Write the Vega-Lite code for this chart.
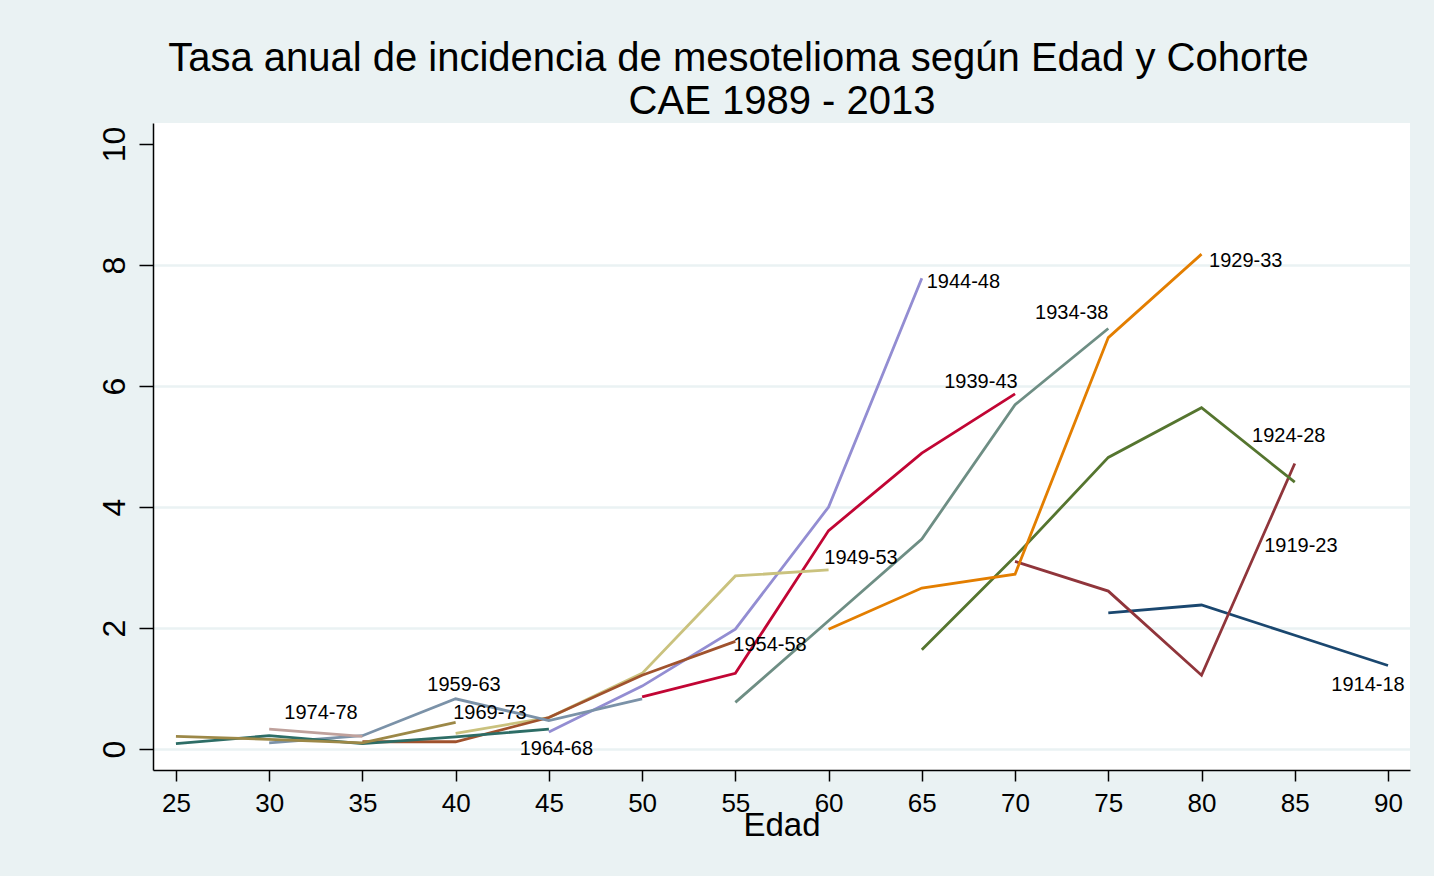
{
  "$schema": "https://vega.github.io/schema/vega-lite/v6.json",
  "autosize": "none",
  "padding": {"left": 153, "top": 123, "right": 24, "bottom": 106},
  "width": 1257,
  "height": 647,
  "background": "#eaf2f3",
  "config": {
    "font": "Liberation Sans",
    "view": {"fill": "white", "stroke": null}
  },
  "title": {
    "text": "Tasa anual de incidencia de mesotelioma según Edad y Cohorte",
    "anchor": "middle",
    "frame": "group",
    "fontSize": 40,
    "fontWeight": "normal",
    "color": "black",
    "baseline": "bottom",
    "dx": -43,
    "offset": -38
  },
  "resolve": {"axis": {"x": "independent"}},
  "datasets": {
    "rates": [
      {"cohorte": "1914-18", "edad": 75, "tasa": 2.25},
      {"cohorte": "1914-18", "edad": 80, "tasa": 2.38},
      {"cohorte": "1914-18", "edad": 85, "tasa": 1.88},
      {"cohorte": "1914-18", "edad": 90, "tasa": 1.38},
      {"cohorte": "1919-23", "edad": 70, "tasa": 3.10},
      {"cohorte": "1919-23", "edad": 75, "tasa": 2.61},
      {"cohorte": "1919-23", "edad": 80, "tasa": 1.22},
      {"cohorte": "1919-23", "edad": 85, "tasa": 4.72},
      {"cohorte": "1924-28", "edad": 65, "tasa": 1.64},
      {"cohorte": "1924-28", "edad": 70, "tasa": 3.18},
      {"cohorte": "1924-28", "edad": 75, "tasa": 4.82},
      {"cohorte": "1924-28", "edad": 80, "tasa": 5.64},
      {"cohorte": "1924-28", "edad": 85, "tasa": 4.41},
      {"cohorte": "1929-33", "edad": 60, "tasa": 1.98},
      {"cohorte": "1929-33", "edad": 65, "tasa": 2.66},
      {"cohorte": "1929-33", "edad": 70, "tasa": 2.89},
      {"cohorte": "1929-33", "edad": 75, "tasa": 6.80},
      {"cohorte": "1929-33", "edad": 80, "tasa": 8.18},
      {"cohorte": "1934-38", "edad": 55, "tasa": 0.77},
      {"cohorte": "1934-38", "edad": 60, "tasa": 2.12},
      {"cohorte": "1934-38", "edad": 65, "tasa": 3.47},
      {"cohorte": "1934-38", "edad": 70, "tasa": 5.69},
      {"cohorte": "1934-38", "edad": 75, "tasa": 6.95},
      {"cohorte": "1939-43", "edad": 50, "tasa": 0.86},
      {"cohorte": "1939-43", "edad": 55, "tasa": 1.25},
      {"cohorte": "1939-43", "edad": 60, "tasa": 3.61},
      {"cohorte": "1939-43", "edad": 65, "tasa": 4.89},
      {"cohorte": "1939-43", "edad": 70, "tasa": 5.87},
      {"cohorte": "1944-48", "edad": 45, "tasa": 0.28},
      {"cohorte": "1944-48", "edad": 50, "tasa": 1.04},
      {"cohorte": "1944-48", "edad": 55, "tasa": 1.98},
      {"cohorte": "1944-48", "edad": 60, "tasa": 4.00},
      {"cohorte": "1944-48", "edad": 65, "tasa": 7.78},
      {"cohorte": "1949-53", "edad": 40, "tasa": 0.26},
      {"cohorte": "1949-53", "edad": 45, "tasa": 0.52},
      {"cohorte": "1949-53", "edad": 50, "tasa": 1.25},
      {"cohorte": "1949-53", "edad": 55, "tasa": 2.86},
      {"cohorte": "1949-53", "edad": 60, "tasa": 2.96},
      {"cohorte": "1954-58", "edad": 35, "tasa": 0.12},
      {"cohorte": "1954-58", "edad": 40, "tasa": 0.12},
      {"cohorte": "1954-58", "edad": 45, "tasa": 0.52},
      {"cohorte": "1954-58", "edad": 50, "tasa": 1.22},
      {"cohorte": "1954-58", "edad": 55, "tasa": 1.78},
      {"cohorte": "1959-63", "edad": 30, "tasa": 0.10},
      {"cohorte": "1959-63", "edad": 35, "tasa": 0.22},
      {"cohorte": "1959-63", "edad": 40, "tasa": 0.83},
      {"cohorte": "1959-63", "edad": 45, "tasa": 0.47},
      {"cohorte": "1959-63", "edad": 50, "tasa": 0.83},
      {"cohorte": "1964-68", "edad": 25, "tasa": 0.09},
      {"cohorte": "1964-68", "edad": 30, "tasa": 0.22},
      {"cohorte": "1964-68", "edad": 35, "tasa": 0.09},
      {"cohorte": "1964-68", "edad": 40, "tasa": 0.20},
      {"cohorte": "1964-68", "edad": 45, "tasa": 0.33},
      {"cohorte": "1969-73", "edad": 25, "tasa": 0.21},
      {"cohorte": "1969-73", "edad": 30, "tasa": 0.16},
      {"cohorte": "1969-73", "edad": 35, "tasa": 0.10},
      {"cohorte": "1969-73", "edad": 40, "tasa": 0.44},
      {"cohorte": "1974-78", "edad": 30, "tasa": 0.33},
      {"cohorte": "1974-78", "edad": 35, "tasa": 0.21}
    ],
    "labels": [
      {"cohorte": "1914-18", "edad": 88.93, "tasa": 1.05},
      {"cohorte": "1919-23", "edad": 85.33, "tasa": 3.36},
      {"cohorte": "1924-28", "edad": 84.68, "tasa": 5.18},
      {"cohorte": "1929-33", "edad": 82.37, "tasa": 8.07},
      {"cohorte": "1934-38", "edad": 73.04, "tasa": 7.21},
      {"cohorte": "1939-43", "edad": 68.17, "tasa": 6.07},
      {"cohorte": "1944-48", "edad": 67.23, "tasa": 7.72},
      {"cohorte": "1949-53", "edad": 61.74, "tasa": 3.15},
      {"cohorte": "1954-58", "edad": 56.86, "tasa": 1.72},
      {"cohorte": "1959-63", "edad": 40.45, "tasa": 1.06},
      {"cohorte": "1964-68", "edad": 45.4, "tasa": 0.0},
      {"cohorte": "1969-73", "edad": 41.84, "tasa": 0.59},
      {"cohorte": "1974-78", "edad": 32.78, "tasa": 0.59}
    ]
  },
  "encoding": {
    "y": {
      "field": "tasa", "type": "quantitative",
      "scale": {"domain": [-0.347, 10.347], "nice": false, "zero": false},
      "axis": {
        "title": null,
        "values": [0, 2, 4, 6, 8, 10],
        "grid": true,
        "gridColor": {"condition": {"test": "datum.value == 10", "value": "transparent"}, "value": "#eaf2f3"},
        "gridWidth": 2.5,
        "domainColor": "black", "domainWidth": 1.5,
        "tickColor": "black", "tickWidth": 1.5, "tickSize": 14,
        "labelFontSize": 32, "labelColor": "black", "labelAngle": 270,
        "labelAlign": "center", "labelBaseline": "alphabetic",
        "labelPadding": 15, "labelFlush": false, "labelOverlap": false
      }
    }
  },
  "layer": [
    {
      "data": {"name": "rates"},
      "mark": {"type": "line", "strokeWidth": 2.8, "clip": true},
      "encoding": {
        "x": {
          "field": "edad", "type": "quantitative",
          "scale": {"domain": [23.77, 91.18], "nice": false, "zero": false},
          "axis": {
            "title": "Edad",
            "orient": "bottom",
            "values": [25, 30, 35, 40, 45, 50, 55, 60, 65, 70, 75, 80, 85, 90],
            "grid": false,
            "domainColor": "black", "domainWidth": 1.5,
            "tickColor": "black", "tickWidth": 1.5, "tickSize": 11,
            "labelFontSize": 26, "labelColor": "black", "labelPadding": 9,
            "labelFlush": false, "labelOverlap": false,
            "titleFontSize": 33, "titleFontWeight": "normal", "titleColor": "black",
            "titlePadding": -7
          }
        },
        "color": {
          "field": "cohorte", "type": "nominal", "legend": null,
          "scale": {
            "domain": ["1914-18", "1919-23", "1924-28", "1929-33", "1934-38", "1939-43", "1944-48", "1949-53", "1954-58", "1959-63", "1964-68", "1969-73", "1974-78"],
            "range": ["#1a476f", "#90353b", "#55752f", "#e37e00", "#6e8e84", "#c10534", "#938dd2", "#cac27e", "#a0522d", "#7b92a8", "#2d6d66", "#9c8847", "#bfa19c"]
          }
        },
        "order": {"field": "edad", "type": "quantitative"}
      }
    },
    {
      "data": {"name": "labels"},
      "mark": {"type": "text", "fontSize": 20, "color": "black", "align": "center", "baseline": "middle"},
      "encoding": {
        "x": {
          "field": "edad", "type": "quantitative",
          "axis": {
            "orient": "top",
            "title": "CAE 1989 - 2013",
            "labels": false, "ticks": false, "domain": false, "grid": false,
            "titleFontSize": 40, "titleFontWeight": "normal", "titleColor": "black",
            "titleBaseline": "alphabetic",
            "titlePadding": 10
          }
        },
        "text": {"field": "cohorte", "type": "nominal"}
      }
    }
  ]
}
